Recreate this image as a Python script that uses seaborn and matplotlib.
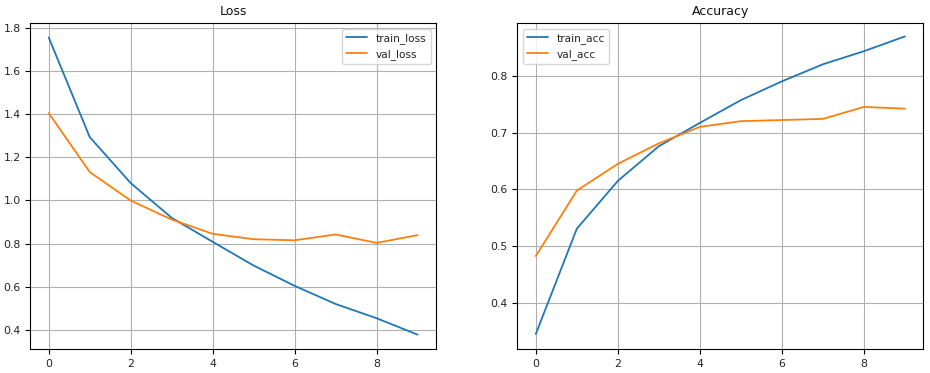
import matplotlib
matplotlib.use("Agg")
import matplotlib.pyplot as plt
import seaborn as sns
import pandas as pd
import numpy as np

epochs = list(range(10))
train_loss = [1.754, 1.293, 1.080, 0.919, 0.808, 0.698, 0.604, 0.520, 0.454, 0.378]
val_loss = [1.404, 1.131, 0.999, 0.911, 0.845, 0.820, 0.815, 0.842, 0.803, 0.839]
train_acc = [0.346, 0.531, 0.615, 0.676, 0.717, 0.757, 0.790, 0.820, 0.843, 0.869]
val_acc = [0.483, 0.598, 0.645, 0.681, 0.710, 0.720, 0.722, 0.724, 0.745, 0.742]

sns.set_style("ticks")
plt.rcParams["font.family"] = ["DejaVu Sans"]
plt.rcParams["font.size"] = 7.8
plt.rcParams["text.color"] = "#222222"
plt.rcParams["xtick.labelcolor"] = "#222222"
plt.rcParams["ytick.labelcolor"] = "#222222"

fig = plt.figure(figsize=(9.3, 3.73), dpi=100)
ax1 = fig.add_axes([0.0326, 0.0635, 0.4362, 0.874])
ax2 = fig.add_axes([0.5563, 0.0635, 0.4366, 0.874])

palette = ["#1f77b4", "#ff7f0e"]

loss_df = pd.DataFrame({
    "epoch": epochs * 2,
    "value": train_loss + val_loss,
    "series": ["train_loss"] * 10 + ["val_loss"] * 10,
})
acc_df = pd.DataFrame({
    "epoch": epochs * 2,
    "value": train_acc + val_acc,
    "series": ["train_acc"] * 10 + ["val_acc"] * 10,
})

sns.lineplot(data=loss_df, x="epoch", y="value", hue="series", palette=palette, ax=ax1, linewidth=1.3)
sns.lineplot(data=acc_df, x="epoch", y="value", hue="series", palette=palette, ax=ax2, linewidth=1.3)

for ax, title, loc in [(ax1, "Loss", "upper right"), (ax2, "Accuracy", "upper left")]:
    ax.set_title(title, fontsize=9.0, color="#111111")
    ax.set_xlabel("")
    ax.set_ylabel("")
    ax.grid(True, color="#b0b0b0", linewidth=0.8)
    ax.set_xticks([0, 2, 4, 6, 8])
    ax.tick_params(labelsize=7.8, length=3.5, width=0.8, color="black")
    for s in ax.spines.values():
        s.set_color("black")
        s.set_linewidth(0.8)
    leg = ax.legend(loc=loc, fontsize=7.6, frameon=True, handlelength=2.0)
    leg.get_frame().set_edgecolor("#cccccc")
    leg.set_title(None)

ax1.set_xlim(-0.45, 9.45)
ax1.set_ylim(0.31, 1.82)
ax1.set_yticks([0.4, 0.6, 0.8, 1.0, 1.2, 1.4, 1.6, 1.8])
ax2.set_xlim(-0.45, 9.45)
ax2.set_ylim(0.319, 0.892)
ax2.set_yticks([0.4, 0.5, 0.6, 0.7, 0.8])

fig.savefig("out.png", dpi=100, facecolor="white")
